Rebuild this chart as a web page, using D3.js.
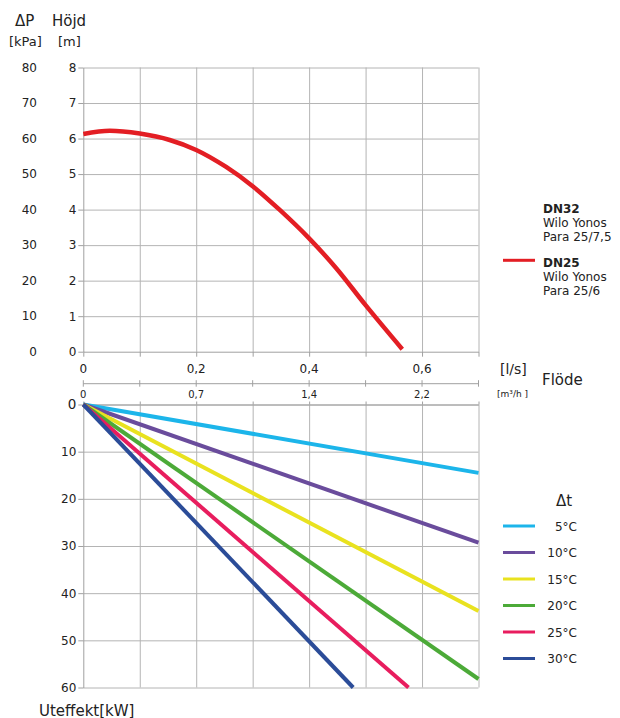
<!DOCTYPE html>
<html>
<head>
<meta charset="utf-8">
<script src="https://cdn.jsdelivr.net/npm/d3@7"></script>
<style>
  body { margin: 0; background: #fff; }
  svg text { font-family: "DejaVu Sans", sans-serif; fill: #222; }
  .grid line { stroke: #b4b4b4; stroke-width: 1; }
  .grid path { display: none; }
  .axis path, .axis line { stroke: #a0a0a0; stroke-width: 1; }
</style>
</head>
<body>
<svg id="chart" width="620" height="718"></svg>
<script>
// pump curve DN25 (Wilo Yonos Para 25/6): flow [l/s] vs head [m]
var pumpFlow = [0, 0.047, 0.1, 0.153, 0.2, 0.253, 0.3, 0.348, 0.4, 0.448, 0.5, 0.565];
var pumpHead = [6.13, 6.22, 6.14, 5.96, 5.68, 5.2, 4.66, 3.99, 3.19, 2.35, 1.31, 0.07];

// power lines, one per delta t, from origin to end point [l/s, kW]
var dtNames = ["5°C", "10°C", "15°C", "20°C", "25°C", "30°C"];
var dtColors = ["#1cb5ea", "#6a4c9c", "#e9e21f", "#4caa38", "#e81d5e", "#2b4c98"];
var dtEndFlow = [0.7, 0.7, 0.7, 0.7, 0.576, 0.478];
var dtEndPower = [14.5, 29.3, 43.8, 58.2, 60, 60];

// tick labels
var headTicks = [0, 1, 2, 3, 4, 5, 6, 7, 8];
var kpaTicks = [0, 10, 20, 30, 40, 50, 60, 70, 80];
var flowGrid = [0, 0.1, 0.2, 0.3, 0.4, 0.5, 0.6, 0.7];
var lsTickVals = [0, 0.2, 0.4, 0.6];
var lsTickText = ["0", "0,2", "0,4", "0,6"];
var m3hTickText = ["0", "0,7", "1,4", "2,2"];
var powerTicks = [0, 10, 20, 30, 40, 50, 60];

var svg = d3.select("#chart");

var left = 83.3, right = 478.5;
var x = d3.scaleLinear().domain([0, 0.7]).range([left, right]);
var yTop = d3.scaleLinear().domain([0, 8]).range([351.7, 67.5]);
var yBot = d3.scaleLinear().domain([0, 60]).range([404.5, 687.5]);

/* ---------- top chart: pump curve ---------- */
svg.append("g").attr("class", "grid")
  .attr("transform", "translate(0," + yTop(0) + ")")
  .call(d3.axisBottom(x).tickValues(flowGrid.slice(1)).tickSize(-(yTop(0) - yTop(8))).tickFormat(""));
svg.append("g").attr("class", "grid")
  .attr("transform", "translate(" + left + ",0)")
  .call(d3.axisLeft(yTop).tickValues(headTicks.slice(1)).tickSize(-(right - left)).tickFormat(""));

// left axis with head labels [m]
var gTopY = svg.append("g").attr("class", "axis")
  .attr("transform", "translate(" + left + ",0)")
  .call(d3.axisLeft(yTop).tickValues(headTicks).tickSize(5).tickPadding(2).tickSizeOuter(0));
gTopY.selectAll("text").style("font-size", "12px").attr("fill", "#222");

// kPa labels
svg.append("g").selectAll("text").data(kpaTicks).join("text")
  .attr("x", 37).attr("y", function (d, i) { return yTop(headTicks[i]); })
  .attr("dy", "0.36em").attr("text-anchor", "end").style("font-size", "12px")
  .text(function (d) { return d; });

// bottom axis of top chart [l/s]
svg.append("g").attr("class", "axis")
  .attr("transform", "translate(0," + yTop(0) + ")")
  .call(d3.axisBottom(x).tickValues(flowGrid).tickSize(5).tickFormat("").tickSizeOuter(0));
svg.append("g").selectAll("text").data(lsTickVals).join("text")
  .attr("x", function (d) { return x(d); }).attr("y", 372.5)
  .attr("text-anchor", "middle").style("font-size", "12px")
  .text(function (d, i) { return lsTickText[i]; });

// pump curve
var pumpPts = pumpFlow.map(function (f, i) { return [f, pumpHead[i]]; });
svg.append("path").datum(pumpPts)
  .attr("fill", "none").attr("stroke", "#e31e24").attr("stroke-width", 4.5)
  .attr("d", d3.line().x(function (d) { return x(d[0]); }).y(function (d) { return yTop(d[1]); }).curve(d3.curveMonotoneX));

/* ---------- second flow axis [m3/h] ---------- */
var axisM3Y = 383.7;
svg.append("line").attr("x1", left).attr("x2", right).attr("y1", axisM3Y).attr("y2", axisM3Y)
  .attr("stroke", "#a0a0a0");
svg.append("g").selectAll("line").data(flowGrid).join("line")
  .attr("x1", function (d) { return x(d); }).attr("x2", function (d) { return x(d); })
  .attr("y1", axisM3Y - 3.5).attr("y2", axisM3Y + 3).attr("stroke", "#a0a0a0");
svg.append("g").selectAll("text").data(lsTickVals).join("text")
  .attr("x", function (d) { return x(d); }).attr("y", 397.5)
  .attr("text-anchor", "middle").style("font-size", "10px")
  .text(function (d, i) { return m3hTickText[i]; });

/* ---------- bottom chart: power lines ---------- */
svg.append("g").attr("class", "grid")
  .attr("transform", "translate(0," + yBot(0) + ")")
  .call(d3.axisTop(x).tickValues(flowGrid.slice(1)).tickSize(-(yBot(60) - yBot(0))).tickFormat(""));
svg.append("g").attr("class", "grid")
  .attr("transform", "translate(" + left + ",0)")
  .call(d3.axisLeft(yBot).tickValues(powerTicks).tickSize(-(right - left)).tickFormat(""));

var gBotY = svg.append("g").attr("class", "axis")
  .attr("transform", "translate(" + left + ",0)")
  .call(d3.axisLeft(yBot).tickValues(powerTicks).tickSize(5).tickPadding(2).tickSizeOuter(0));
gBotY.selectAll("text").style("font-size", "12px").attr("fill", "#222");
gBotY.select(".tick text").style("font-size", "13.5px");

svg.append("g").attr("class", "axis")
  .attr("transform", "translate(0," + yBot(0) + ")")
  .call(d3.axisTop(x).tickValues(flowGrid).tickSize(3).tickFormat("").tickSizeOuter(0));

var lineGen = d3.line().x(function (d) { return x(d[0]); }).y(function (d) { return yBot(d[1]); });
svg.append("g").selectAll("path").data(dtNames).join("path")
  .attr("fill", "none").attr("stroke-width", 4)
  .attr("stroke", function (d, i) { return dtColors[i]; })
  .attr("d", function (d, i) { return lineGen([[0, 0], [dtEndFlow[i], dtEndPower[i]]]); });

/* ---------- axis titles ---------- */
svg.append("text").attr("x", 15).attr("y", 26).style("font-size", "15px").text("ΔP");
svg.append("text").attr("x", 52).attr("y", 26).style("font-size", "15px").text("Höjd");
svg.append("text").attr("x", 9).attr("y", 46).style("font-size", "13px").text("[kPa]");
svg.append("text").attr("x", 58).attr("y", 46).style("font-size", "13px").text("[m]");
svg.append("text").attr("x", 500).attr("y", 374).style("font-size", "14px").text("[l/s]");
svg.append("text").attr("x", 542).attr("y", 384.5).style("font-size", "15px").text("Flöde");
svg.append("text").attr("x", 497).attr("y", 397).style("font-size", "9px").text("[m³/h ]");
svg.append("text").attr("x", 39).attr("y", 715.5).style("font-size", "15px").text("Uteffekt[kW]");

/* ---------- legend: pumps ---------- */
var pumpLegend = [
  { title: "DN32", lines: ["Wilo Yonos", "Para 25/7,5"], y: 212.5, color: null },
  { title: "DN25", lines: ["Wilo Yonos", "Para 25/6"], y: 266.8, color: "#e31e24" }
];
pumpLegend.forEach(function (p) {
  svg.append("text").attr("x", 543).attr("y", p.y).style("font-size", "12px")
    .style("font-weight", "bold").text(p.title);
  p.lines.forEach(function (t, j) {
    svg.append("text").attr("x", 543).attr("y", p.y + 14.3 * (j + 1)).style("font-size", "12px").text(t);
  });
  if (p.color) {
    svg.append("line").attr("x1", 503).attr("x2", 535).attr("y1", p.y - 6.5).attr("y2", p.y - 6.5)
      .attr("stroke", p.color).attr("stroke-width", 3);
  }
});

/* ---------- legend: delta t ---------- */
svg.append("text").attr("x", 556).attr("y", 505.5).style("font-size", "15px").text("Δt");
var legY = d3.scaleLinear().domain([0, 5]).range([526, 658.5]);
var gLeg = svg.append("g").selectAll("g").data(dtNames).join("g")
  .attr("transform", function (d, i) { return "translate(0," + legY(i) + ")"; });
gLeg.append("line").attr("x1", 503).attr("x2", 535).attr("stroke-width", 3)
  .attr("stroke", function (d, i) { return dtColors[i]; });
gLeg.append("text").attr("x", 577).attr("y", 4.5).attr("text-anchor", "end")
  .style("font-size", "12px").text(function (d) { return d; });
</script>
</body>
</html>
